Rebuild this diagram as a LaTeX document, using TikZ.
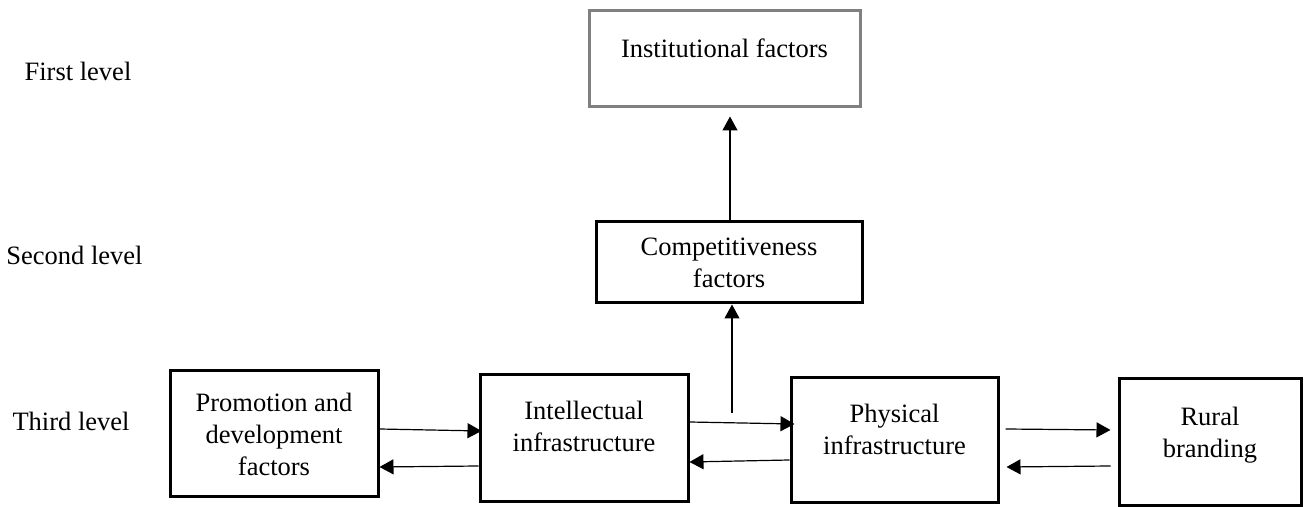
\documentclass[tikz,border=0pt]{standalone}
\usepackage{fontspec}
\setmainfont{Liberation Serif}
\usetikzlibrary{arrows.meta,calc}
\definecolor{instgray}{HTML}{808080}
\begin{document}
\begin{tikzpicture}[x=0.5pt,y=-0.5pt,
  txt/.style={font=\fontsize{13.25pt}{16pt}\selectfont},
  box/.style={txt, draw=black, line width=1.5pt, rectangle, inner sep=0pt, align=center},
  arr/.style={line width=0.6pt, -{Triangle[length=7pt,width=7.5pt]}},
  lvl/.style={txt, anchor=base, inner sep=0pt}]
\useasboundingbox (0,0) rectangle (1308,507);

% level labels
\node[lvl] (l1) at (78,80.5) {First level};
\node[lvl] (l2) at (74.5,265) {Second level};
\node[lvl] (l3) at (71,431) {Third level};

% boxes
\node[box, draw=instgray, minimum width=135.5pt, minimum height=48pt, text depth=11pt] (inst) at (724.5,59) {Institutional factors};
\node[box, minimum width=133pt, minimum height=40.5pt] (comp) at (729,262.5) {Competitiveness\\factors};
\node[box, minimum width=104pt, minimum height=63pt] (promo) at (274,434) {Promotion and\\development\\factors};
\node[box, minimum width=104pt, minimum height=63.5pt, text depth=12pt] (intel) at (584,438.5) {Intellectual\\infrastructure};
\node[box, minimum width=103.5pt, minimum height=62.5pt, text depth=11.5pt] (phys) at (894.5,440.5) {Physical\\infrastructure};
\node[box, minimum width=91pt, minimum height=63.5pt, text depth=10.5pt] (rural) at (1210,442.5) {Rural\\branding};

% connectors
\coordinate (mid) at (732,413);
\draw[arr] ($(promo.east)+(0,-5)$) -- ($(intel.west)+(3,-7.5)$);
\draw[arr] ($(intel.west)+(0,27.5)$) -- ($(promo.east)+(0,33)$);
\draw[arr] ($(intel.east)+(0,-16.5)$) -- ($(phys.west)+(5,-16.5)$);
\draw[arr] ($(phys.west)+(0,19.5)$) -- ($(intel.east)+(0,23.5)$);
\draw[arr] (mid) -- ($(comp.south)+(3,0)$);
\draw[arr] ($(comp.north)+(1,0)$) -- ($(inst.south)+(5.5,8)$);
\draw[arr] ($(phys.east)+(6,-11.5)$) -- ($(rural.west)+(-7,-12.5)$);
\draw[arr] ($(rural.west)+(-7,23.5)$) -- ($(phys.east)+(7,26.5)$);
\end{tikzpicture}
\end{document}
